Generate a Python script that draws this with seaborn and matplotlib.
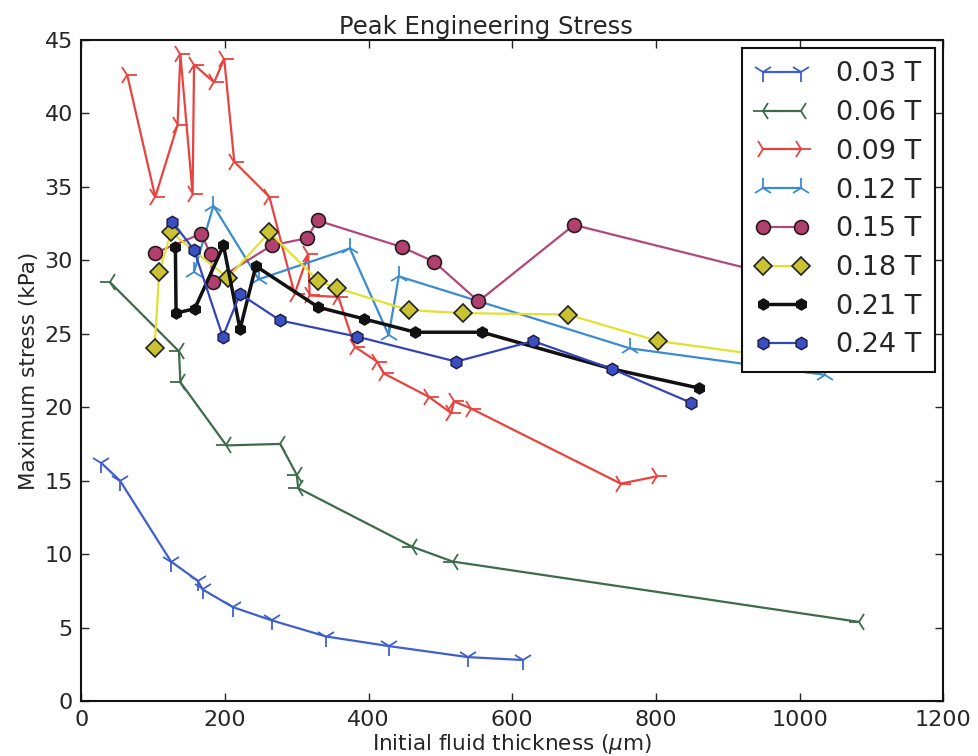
import matplotlib
matplotlib.use("Agg")
import matplotlib.pyplot as plt
import seaborn as sns
import pandas as pd

labels = ["0.03 T", "0.06 T", "0.09 T", "0.12 T", "0.15 T", "0.18 T", "0.21 T", "0.24 T"]

x03 = [28, 54, 125, 162, 169, 211, 265, 341, 428, 538, 615]
y03 = [16.2, 15.0, 9.5, 8.2, 7.6, 6.4, 5.5, 4.4, 3.75, 3.0, 2.8]

x06 = [40, 136, 138, 202, 277, 300, 302, 461, 517, 1082]
y06 = [28.5, 23.8, 21.7, 17.4, 17.5, 15.4, 14.5, 10.5, 9.5, 5.4]

x09 = [64, 103, 134, 138, 155, 157, 185, 199, 213, 262, 297, 316, 318, 358, 381, 412, 421, 484, 515, 519, 543, 751, 802]
y09 = [42.6, 34.3, 39.2, 44.0, 34.5, 43.3, 42.1, 43.7, 36.7, 34.3, 27.7, 30.4, 27.6, 27.5, 24.1, 23.1, 22.3, 20.7, 19.6, 20.4, 19.9, 14.8, 15.3]

x12 = [157, 184, 247, 374, 428, 442, 764, 1035]
y12 = [29.2, 33.7, 28.7, 30.8, 24.9, 28.9, 24.0, 22.2]

x15 = [103, 167, 180, 183, 265, 314, 329, 446, 491, 553, 686, 980]
y15 = [30.5, 31.8, 30.4, 28.5, 31.0, 31.5, 32.7, 30.9, 29.9, 27.2, 32.4, 28.8]

x18 = [102, 108.5, 125, 204, 262, 330, 356, 456, 531, 677, 803, 1000]
y18 = [24.0, 29.2, 31.9, 28.8, 31.9, 28.6, 28.1, 26.6, 26.4, 26.3, 24.5, 23.2]

x21 = [131, 132, 158, 198, 221, 243, 330, 394, 465, 558, 739, 860]
y21 = [30.9, 26.4, 26.7, 31.0, 25.3, 29.6, 26.8, 26.0, 25.1, 25.1, 22.6, 21.3]

x24 = [127, 157, 197, 221, 277, 384, 522, 629, 739, 849]
y24 = [32.6, 30.7, 24.8, 27.7, 25.9, 24.8, 23.1, 24.5, 22.6, 20.3]

xs = [x03, x06, x09, x12, x15, x18, x21, x24]
ys = [y03, y06, y09, y12, y15, y18, y21, y24]

styles = [
    dict(color="#3f5fcb", marker="1", markersize=14, mec="#3f5fcb", mew=1.3, lw=1.6),
    dict(color="#3d6b4c", marker="3", markersize=14, mec="#3d6b4c", mew=1.3, lw=1.6),
    dict(color="#e8433f", marker="4", markersize=14, mec="#e8433f", mew=1.3, lw=1.6),
    dict(color="#3b8ccf", marker="2", markersize=14, mec="#3b8ccf", mew=1.3, lw=1.6),
    dict(color="#b0487a", marker="o", markersize=10, mfc="#b0406e", mec="#2a1a20", mew=1.2, lw=1.6),
    dict(color="#e2e030", marker="D", markersize=9, mfc="#c9c232", mec="#222222", mew=1.2, lw=1.6),
    dict(color="#111111", marker="h", markersize=8, mfc="#111111", mec="#111111", mew=1.0, lw=2.5),
    dict(color="#3444b8", marker="h", markersize=9, mfc="#3a50c2", mec="#1a1a40", mew=1.0, lw=1.6),
]

sns.set_style("ticks")
plt.rcParams["font.family"] = ["DejaVu Sans"]

fig = plt.figure(figsize=(9.79, 7.56), dpi=100)
ax = fig.add_axes([0.083, 0.0725, 0.8805, 0.875])

for lab, x, y, st in zip(labels, xs, ys, styles):
    df = pd.DataFrame({"x": x, "y": y})
    sns.lineplot(data=df, x="x", y="y", sort=False, estimator=None, ax=ax,
                 label=lab, **st)

ax.set_xlim(0, 1200)
ax.set_ylim(0, 45)
ax.set_xticks(range(0, 1201, 200))
ax.set_yticks(range(0, 46, 5))
ax.tick_params(direction="in", top=True, right=True, length=6, width=1,
               labelsize=16, pad=6)
for sp in ax.spines.values():
    sp.set_linewidth(1.5)
    sp.set_color("#111111")

ax.set_title("Peak Engineering Stress", fontsize=17.5, pad=4, x=0.47)
ax.set_xlabel("Initial fluid thickness ($\\mu$m)", fontsize=15.5, labelpad=2)
ax.set_ylabel("Maximum stress (kPa)", fontsize=15.5, labelpad=4)

leg = ax.legend(loc="upper right", numpoints=2, fontsize=19.5, frameon=True,
                fancybox=False, edgecolor="#111111", borderaxespad=0.3,
                handlelength=2.0, handletextpad=1.0, labelspacing=0.47,
                borderpad=0.5)
leg.get_frame().set_linewidth(1.5)
leg.get_frame().set_alpha(1)

fig.savefig("out.png", dpi=100)
